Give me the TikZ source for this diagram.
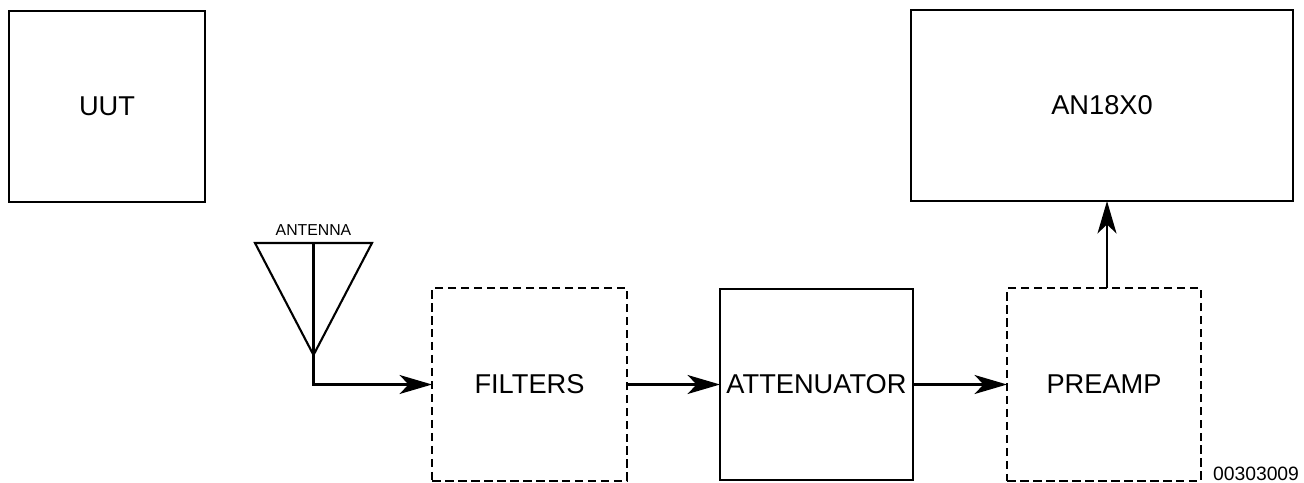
\documentclass[tikz,border=0pt]{standalone}
\usepackage{fontspec}
\setmainfont{Liberation Sans}
\usepackage{tikz}
\usetikzlibrary{positioning,calc,arrows.meta}

\begin{document}
\begin{tikzpicture}[x=0.02cm, y=-0.02cm, every node/.style={font=\fontsize{15.5}{18}\selectfont}]
  \tikzstyle{unit}=[draw, line width=1.2pt, minimum width=3.9cm, minimum height=3.86cm, inner sep=0pt, outer sep=0pt]
  \tikzstyle{optunit}=[unit, dash pattern=on 0.17cm off 0.09cm]
  \tikzstyle{feed}=[line width=1.2pt, -{Stealth[length=6.5mm, width=3.8mm, inset=1.8mm]}]
  \useasboundingbox (0,0) rectangle (1304,483);
  \node[unit, minimum width=3.92cm, minimum height=3.82cm] (uut) at (107,106.5) {UUT};
  \node[unit, minimum width=7.64cm, minimum height=3.82cm] (an) at (1102,105.5) {AN18X0};
  \node[optunit] (filters) at (529.5,384.5) {FILTERS};
  \node[unit, minimum width=3.86cm, minimum height=3.82cm] (atten) at (816.5,384.5) {ATTENUATOR};
  \node[optunit, minimum width=3.88cm] (preamp) at (1104,384.5) {PREAMP};
  % antenna
  \coordinate (antl) at (255,243);
  \coordinate (antr) at (372,243);
  \coordinate (ant) at (313.5,355);
  \draw[line width=1.2pt, line join=miter] (antl) -- (antr) -- (ant) -- cycle;
  \draw[line width=1.2pt] (ant) -- (ant |- antl);
  \node[font=\fontsize{9}{10}\selectfont, above=1pt of ant |- antl] (antlabel) {ANTENNA};
  % signal path
  \draw[feed] (ant) |- (filters.west);
  \draw[feed] (filters.east) -- (atten.west);
  \draw[feed] (atten.east) -- (preamp.west);
  \coordinate (pout) at ($(preamp.north)+(3,0)$);
  \draw[feed] (pout) -- (pout |- an.south);
  \node[font=\fontsize{11}{12}\selectfont, anchor=base] (figno) at (1256,480) {00303009};
\end{tikzpicture}
\end{document}
